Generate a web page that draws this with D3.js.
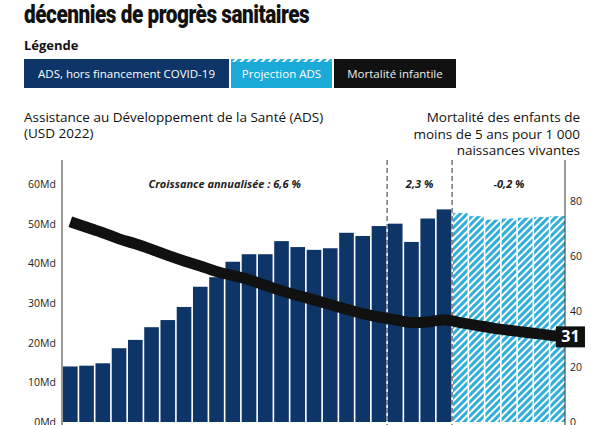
<!DOCTYPE html>
<html><head><meta charset="utf-8">
<script src="https://cdn.jsdelivr.net/npm/d3@7"></script>
<style>body{margin:0;background:#fff;font-family:"Open Sans",sans-serif}</style>
</head><body>
<script>
// data
var years = d3.range(2000, 2031);
var adsActual = [14, 14.2, 14.8, 18.6, 20.7, 23.9, 25.7, 29, 34.1, 36.5, 40.4, 42.3, 42.3, 45.6, 44.1, 43.4, 43.8, 47.7, 46.9, 49.4, 50, 45.4, 51.3, 53.6];
var adsProjection = [52.7, 51.9, 51, 51.3, 51.5, 51.7, 51.9];
var mortality = [72.5, 70.5, 68.5, 66.3, 64.5, 62.5, 60.3, 58.3, 56.5, 54.5, 53, 51.5, 49.5, 47.5, 45.8, 44.2, 42.5, 40.8, 39.2, 38, 37, 36, 36.2, 37, 36, 35, 34, 33.2, 32.5, 31.8, 31];
var leftTicks = [0, 10, 20, 30, 40, 50, 60];
var rightTicks = [0, 20, 40, 60, 80];
var periods = [{from: 2000, to: 2019, label: "Croissance annualisée : 6,6 %"}, {from: 2020, to: 2023, label: "2,3 %"}, {from: 2024, to: 2030, label: "-0,2 %"}];

var W = 591, H = 425;
var svg = d3.select("body").append("svg").attr("width", W).attr("height", H);

var defs = svg.append("defs");
var pat = defs.append("pattern").attr("id", "hatch").attr("patternUnits", "userSpaceOnUse")
    .attr("width", 5).attr("height", 5).attr("patternTransform", "rotate(45)");
pat.append("rect").attr("width", 5).attr("height", 5).attr("fill", "#fff");
pat.append("rect").attr("width", 3).attr("height", 5).attr("fill", "#2eaed8");

// title (first line cut off at top)
svg.append("text").attr("transform", "translate(24,23) scale(0.8,1)").attr("font-family", "Roboto").attr("font-weight", 900)
    .attr("font-size", 26).attr("letter-spacing", -0.6).attr("fill", "#111").text("décennies de progrès sanitaires");

// legend
svg.append("text").attr("x", 24).attr("y", 50).attr("font-weight", 700).attr("font-size", 13).attr("fill", "#111").text("Légende");
var leg = [{t: "ADS, hors financement COVID-19", x: 24, w: 205, bg: "#0d3567", fg: "#fff"},
    {t: "Projection ADS", x: 231, w: 101, bg: "#1aaad8", fg: "#fff"},
    {t: "Mortalité infantile", x: 334, w: 122, bg: "#111", fg: "#eee"}];
leg.forEach(function (d) {
    svg.append("rect").attr("x", d.x).attr("y", 59).attr("width", d.w).attr("height", 29).attr("fill", d.bg);
    svg.append("text").attr("x", d.x + d.w / 2).attr("y", 78).attr("text-anchor", "middle")
        .attr("font-size", 11.5).attr("fill", d.fg).text(d.t);
});
svg.append("rect").attr("x", 231).attr("y", 59).attr("width", 101).attr("height", 3).attr("fill", "url(#hatch)");

// axis titles
var lt = svg.append("text").attr("font-size", 13.5).attr("fill", "#111");
lt.append("tspan").attr("x", 24).attr("y", 122).text("Assistance au Développement de la Santé (ADS)");
lt.append("tspan").attr("x", 24).attr("y", 138).text("(USD 2022)");
var rt = svg.append("text").attr("font-size", 13.5).attr("fill", "#111").attr("text-anchor", "end");
["Mortalité des enfants de", "moins de 5 ans pour 1 000", "naissances vivantes"].forEach(function (s, i) {
    rt.append("tspan").attr("x", 580).attr("y", 122 + i * 16.5).text(s);
});

// scales
var x = d3.scaleBand().domain(years).range([63, 565]).paddingInner(0.1).paddingOuter(0.0);
var yL = d3.scaleLinear().domain([0, 60]).range([422, 184]);
var yR = d3.scaleLinear().domain([0, 80]).range([422, 201]);

// bars
svg.selectAll(".bar").data(adsActual).enter().append("rect")
    .attr("x", function (d, i) { return x(years[i]); })
    .attr("y", function (d) { return yL(d); })
    .attr("width", x.bandwidth()).attr("height", function (d) { return yL(0) - yL(d); })
    .attr("fill", "#0d3567");
svg.selectAll(".proj").data(adsProjection).enter().append("rect")
    .attr("x", function (d, i) { return x(years[adsActual.length + i]); })
    .attr("y", function (d) { return yL(d); })
    .attr("width", x.bandwidth()).attr("height", function (d) { return yL(0) - yL(d); })
    .attr("fill", "url(#hatch)");

// axes
var axL = svg.append("g").attr("transform", "translate(62,0)")
    .call(d3.axisLeft(yL).tickValues(leftTicks).tickSize(0).tickPadding(6).tickFormat(function (d) { return d + "Md"; }));
axL.select(".domain").attr("d", "M0,160V425").attr("stroke", "#333");
var axR = svg.append("g").attr("transform", "translate(565,0)")
    .call(d3.axisRight(yR).tickValues(rightTicks).tickSize(0).tickPadding(5));
axR.select(".domain").attr("d", "M0,160V425").attr("stroke", "#333");
svg.selectAll(".tick text").attr("font-family", "Open Sans").attr("font-size", 10.5).attr("fill", "#222");

// period separators and labels
var step = x.step();
[2020, 2024].forEach(function (yr) {
    var xx = x(yr) - (step - x.bandwidth()) / 2;
    svg.append("line").attr("x1", xx).attr("x2", xx).attr("y1", 160).attr("y2", 425)
        .attr("stroke", "#333").attr("stroke-dasharray", "5,3");
});
periods.forEach(function (p) {
    var cx = (x(p.from) + x(p.to) + x.bandwidth()) / 2;
    svg.append("text").attr("x", cx).attr("y", 188).attr("text-anchor", "middle")
        .attr("font-style", "italic").attr("font-weight", 700).attr("font-size", 11).attr("fill", "#222").text(p.label);
});

// mortality line
var line = d3.line().x(function (d, i) { return x(years[i]) + x.bandwidth() / 2; })
    .y(function (d) { return yR(d); }).curve(d3.curveMonotoneX);
svg.append("path").datum(mortality).attr("d", line).attr("fill", "none")
    .attr("stroke", "#111").attr("stroke-width", 11);

// end label
var last = mortality[mortality.length - 1];
svg.append("rect").attr("x", 556).attr("y", yR(last) - 10).attr("width", 29).attr("height", 21).attr("fill", "#111");
svg.append("text").attr("x", 570.5).attr("y", yR(last) + 6).attr("text-anchor", "middle")
    .attr("font-weight", 700).attr("font-size", 16).attr("fill", "#fff").text(last);
</script>
</body></html>
